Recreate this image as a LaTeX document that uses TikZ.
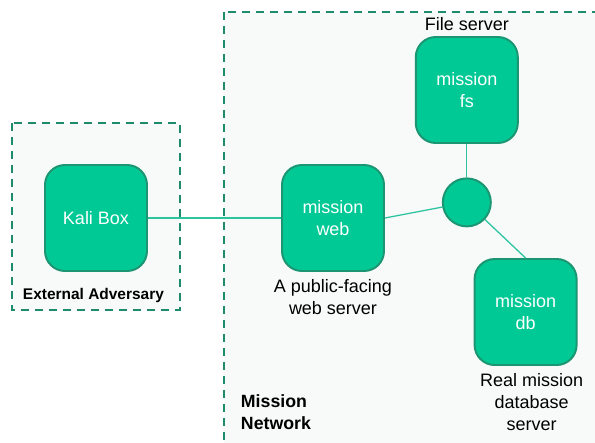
\documentclass[tikz,border=0pt]{standalone}
\usepackage{fontspec}
\setmainfont{Liberation Sans}
\usepackage{tikz}
\usetikzlibrary{calc}

\definecolor{hostfill}{HTML}{00C996}
\definecolor{hostline}{HTML}{1C9672}
\definecolor{zoneline}{HTML}{1E8C6C}
\definecolor{zonefill}{HTML}{F8FAFA}
\definecolor{linkline}{HTML}{2CC49E}

\begin{document}
\begin{tikzpicture}[
        host/.style={draw=hostline, line width=1.4pt, fill=hostfill, rounded corners=0.5cm,
                minimum width=2.55cm, minimum height=2.65cm, align=center, text=white,
                font=\fontsize{12.8}{15.5}\selectfont},
        hub/.style={draw=hostline, line width=1.4pt, fill=hostfill, circle, minimum size=1.2cm},
        zone/.style={draw=zoneline, line width=2pt, fill=zonefill, dash pattern=on 0.2cm off 0.15cm},
        link/.style={draw=linkline, line width=0.9pt},
        caption/.style={align=center, font=\fontsize{12.8}{15.5}\selectfont}]

        %frame
        \useasboundingbox (0,0) rectangle (14.875,11.05);
        \clip (0,0) rectangle (14.875,11.05);

        %coordinates
        \coordinate (K) at (2.4,5.6); % kali
        \coordinate (W) at (8.325,5.6); % web
        \coordinate (F) at (11.67,8.8); % file server
        \coordinate (H) at (11.67,5.99); % hub
        \coordinate (D) at (13.14,3.25); % database

        %zones
        \draw[zone] (0.3,7.975) rectangle (4.5,3.3);
        \draw[zone] (5.6,10.75) rectangle (15.5,-0.5);
        \node[anchor=west, font=\fontsize{11}{13}\bfseries] (ea) at (0.45,3.675) {External Adversary};
        \node[anchor=west, align=left, font=\fontsize{12.6}{15.5}\bfseries] (mn) at (5.9,0.75) {Mission\\Network};

        %hosts
        \node[host] (kali) at (K) {Kali Box};
        \node[host] (web) at (W) {mission\\web};
        \node[host] (fs) at (F) {mission\\fs};
        \node[host] (db) at (D) {mission\\db};
        \node[hub] (hub) at (H) {};

        %links
        \draw[link] (kali.east) -- (web.west);
        \draw[link] (web.east) -- (hub);
        \draw[link] (fs) -- (hub);
        \draw[link] (hub) -- (db.north);

        %captions
        \node[caption, above=0pt] (fscap) at (fs.north) {File server};
        \node[caption, below=2pt] (webcap) at (web.south) {A public-facing\\web server};
        \node[caption, below=2pt] (dbcap) at ($(db.south)+(0.15,0)$) {Real mission\\database\\server};

\end{tikzpicture}
\end{document}
